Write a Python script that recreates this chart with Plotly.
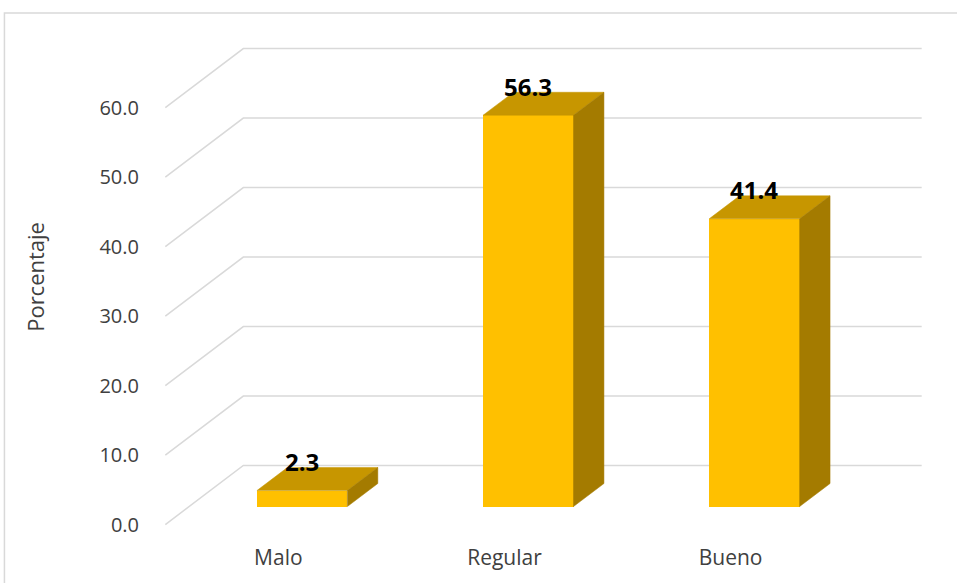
import plotly.graph_objects as go

# Data
categories = ["Malo", "Regular", "Bueno"]
percentages = [2.3, 56.3, 41.4]
y_ticks = [0, 10, 20, 30, 40, 50, 60]

# Oblique "3-D" projection: moving from the front of the floor (depth 0)
# to the back wall (depth 1) shifts a point right and up by these amounts.
DEPTH_DX = 0.345   # category units
DEPTH_DY = 8.49    # percentage units
BAR_W = 0.40
Z_FRONT, Z_BACK = 0.305, 0.695   # bar depth span inside the floor

FRONT = "#FFC000"
TOP = "#C79600"
SIDE = "#A47B00"
GRID = "#D9D9D9"
TEXT = "#404040"
FONT = "Open Sans, Noto Sans, sans-serif"

X_MIN, X_MAX = -0.5, len(categories) - 0.5

# Plot-area geometry (pixels)
M_L, M_R, M_T, M_B = 154, 24, 45, 55
PLOT_W = 957 - M_L - M_R


def proj(x, v, z):
    return x + z * DEPTH_DX, v + z * DEPTH_DY


fig = go.Figure()

# Front faces of the bars
fig.add_trace(go.Bar(
    x=[i + Z_FRONT * DEPTH_DX for i in range(len(categories))],
    y=percentages,
    base=[Z_FRONT * DEPTH_DY] * len(categories),
    width=BAR_W,
    marker=dict(color=FRONT, line=dict(width=0)),
    hoverinfo="skip",
    showlegend=False,
))

# Top and side faces
for i, v in enumerate(percentages):
    xl, xr = i - BAR_W / 2, i + BAR_W / 2
    top = [proj(xl, v, Z_FRONT), proj(xr, v, Z_FRONT),
           proj(xr, v, Z_BACK), proj(xl, v, Z_BACK), proj(xl, v, Z_FRONT)]
    side = [proj(xr, 0, Z_FRONT), proj(xr, v, Z_FRONT),
            proj(xr, v, Z_BACK), proj(xr, 0, Z_BACK), proj(xr, 0, Z_FRONT)]
    for pts, col in ((top, TOP), (side, SIDE)):
        fig.add_trace(go.Scatter(
            x=[p[0] for p in pts], y=[p[1] for p in pts],
            mode="lines", fill="toself", fillcolor=col,
            line=dict(color=col, width=0.5),
            hoverinfo="skip", showlegend=False,
        ))

# Gridlines: a diagonal along the side wall, then along the back wall
shapes = []
for t in y_ticks:
    x0, y0 = proj(X_MIN, t, 0)
    x1, y1 = proj(X_MIN, t, 1)
    x2, y2 = proj(X_MAX, t, 1)
    shapes.append(dict(
        type="path", xref="x", yref="y", layer="below",
        path=f"M {x0},{y0} L {x1},{y1} L {x2},{y2}",
        line=dict(color=GRID, width=1.5),
    ))

# Chart-area border
shapes.append(dict(
    type="rect", xref="paper", yref="paper", layer="below",
    x0=-0.192, x1=1.2, y0=-0.3, y1=1.066,
    line=dict(color=GRID, width=1.5), fillcolor="rgba(0,0,0,0)",
))

# Value labels above each bar
annotations = []
for i, v in enumerate(percentages):
    _, ly = proj(i, v, Z_BACK)
    annotations.append(dict(
        x=i + Z_FRONT * DEPTH_DX, y=ly, xref="x", yref="y",
        text=f"<b>{v:.1f}</b>", showarrow=False,
        xanchor="center", yanchor="middle", yshift=6,
        font=dict(family=FONT, size=24, color="#000000"),
    ))

annotations.append(dict(
    x=(35 - M_L) / PLOT_W, y=0.52, xref="paper", yref="paper",
    xanchor="center", yanchor="middle",
    text="Porcentaje", textangle=-90, showarrow=False,
    font=dict(family=FONT, size=22, color=TEXT),
))

fig.update_layout(
    width=957, height=583,
    margin=dict(l=M_L, r=M_R, t=M_T, b=M_B),
    paper_bgcolor="white", plot_bgcolor="white",
    shapes=shapes, annotations=annotations,
    bargap=0, showlegend=False,
    xaxis=dict(
        range=[X_MIN - 0.05, X_MAX + DEPTH_DX + 0.05],
        tickvals=list(range(len(categories))), ticktext=categories,
        showgrid=False, zeroline=False, showline=False,
        ticks="outside", ticklen=11, tickcolor="rgba(0,0,0,0)",
        tickfont=dict(family=FONT, size=21, color=TEXT),
        fixedrange=True,
    ),
    yaxis=dict(
        range=[-0.5, 69.0],
        tickvals=y_ticks, ticktext=[f"{t:.1f}" for t in y_ticks],
        showgrid=False, zeroline=False, showline=False,
        ticks="outside", ticklen=10, tickcolor="rgba(0,0,0,0)",
        tickfont=dict(family=FONT, size=20, color=TEXT),
        fixedrange=True,
    ),
)

fig.write_html("out.html")
